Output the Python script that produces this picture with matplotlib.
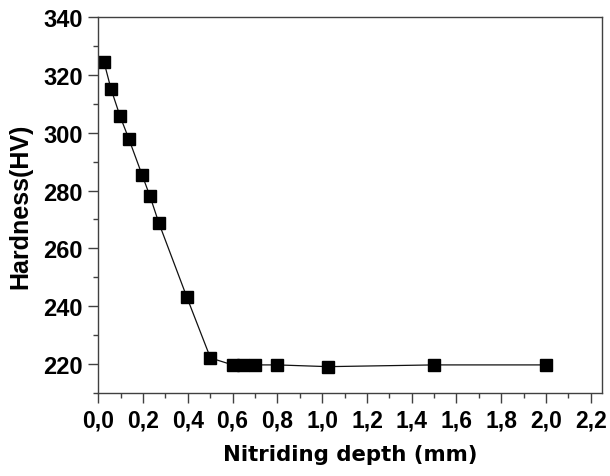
import matplotlib
matplotlib.use("Agg")
import matplotlib.pyplot as plt
from matplotlib.ticker import MultipleLocator, FuncFormatter

depth = [0.025, 0.057, 0.097, 0.137, 0.195, 0.231, 0.271, 0.396, 0.501, 0.600, 0.648, 0.698, 0.800, 1.026, 1.500, 2.000]
hardness = [324.5, 315.0, 305.7, 297.7, 285.5, 278.0, 268.7, 243.1, 222.2, 219.8, 219.8, 219.8, 219.8, 219.2, 219.8, 219.8]

fig = plt.figure(figsize=(6.10, 4.77), dpi=100)
ax = fig.add_axes([98.3/610, 1 - 394.3/477, (602 - 98.3)/610, (394.3 - 17.7)/477])

ax.plot(depth, hardness, color="#111111", lw=0.9, marker="s", markersize=8.4,
        markerfacecolor="black", markeredgecolor="black")

ax.set_xlim(0, 2.25)
ax.set_ylim(210, 340)
ax.xaxis.set_major_locator(MultipleLocator(0.2))
ax.xaxis.set_minor_locator(MultipleLocator(0.1))
ax.yaxis.set_major_locator(MultipleLocator(20))
ax.yaxis.set_minor_locator(MultipleLocator(10))
ax.xaxis.set_major_formatter(FuncFormatter(lambda v, p: f"{v:.1f}".replace(".", ",")))
ax.yaxis.set_major_formatter(FuncFormatter(lambda v, p: f"{v:.0f}"))

for s in ax.spines.values():
    s.set_color("#404040")
    s.set_linewidth(1.0)

ax.tick_params(which="major", direction="out", length=7, width=1, color="#404040",
               top=False, right=False, pad=4)
ax.tick_params(which="minor", direction="out", length=3.5, width=1, color="#404040",
               top=False, right=False)
for lbl in ax.get_xticklabels():
    lbl.set_fontfamily("Liberation Sans")
    lbl.set_fontweight("bold")
    lbl.set_fontsize(16.5)
for lbl in ax.get_yticklabels():
    lbl.set_fontfamily("Liberation Sans")
    lbl.set_fontweight("bold")
    lbl.set_fontsize(17)

ax.set_xlabel("Nitriding depth (mm)", fontfamily="DejaVu Sans", fontweight="bold",
              fontsize=15.3, labelpad=9)
ax.set_ylabel("Hardness(HV)", fontfamily="Liberation Sans", fontweight="bold",
              fontsize=18, labelpad=8)

fig.savefig("out.png", dpi=100)
